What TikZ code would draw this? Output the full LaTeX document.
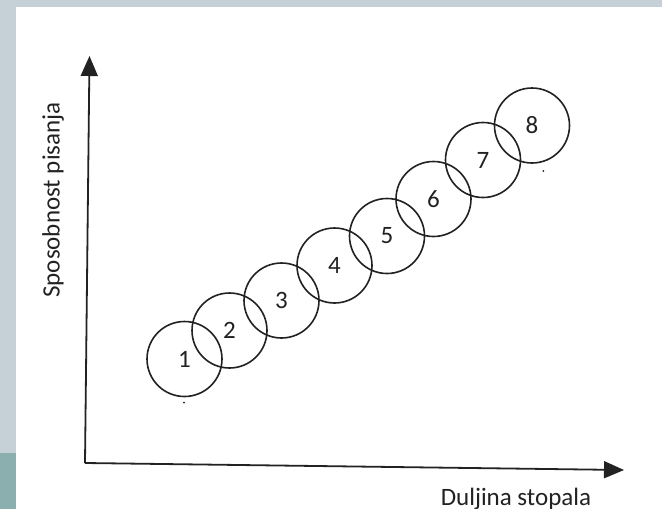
\documentclass[tikz,border=0pt]{standalone}
\usepackage{fontspec}
\setmainfont{Carlito}
\usetikzlibrary{arrows.meta}
\definecolor{slidegrey}{RGB}{197,208,215}
\definecolor{slideteal}{RGB}{139,175,175}
\definecolor{ink}{RGB}{34,34,34}

\begin{document}
\begin{tikzpicture}[x=1pt,y=1pt,yscale=-1,xscale=1,
  ball/.style={circle,draw=ink,line width=1.6pt,minimum size=75pt,inner sep=0pt,text=ink,font=\fontsize{25}{30}\selectfont},
  axis/.style={draw=ink,line width=1.8pt,-{Triangle[length=20pt,width=17pt]}},
  lbl/.style={text=ink,inner sep=0pt,font=\fontsize{25}{30}\selectfont}]
\useasboundingbox (0,0) rectangle (662,509);

%Slide background
\fill[slidegrey] (0,0) rectangle (662,509);
\fill[slideteal] (0,453) rectangle (16,509);
\fill[white] (16,7) rectangle (662,509);

%Axes
\coordinate (o) at (85,463);
\coordinate (ytip) at (89.5,56);
\coordinate (xtip) at (624,470);
\draw[axis] (o) -- (ytip);
\draw[axis] (o) -- (xtip);

%Circles
\foreach \n/\x/\y in {1/184.5/359,2/229.5/330.5,3/281.5/300.5,4/334.5/265.5,5/387/236,6/433.5/199,7/483/160,8/532/125.5}
  \node[ball] (c\n) at (\x,\y) {\n};

%Specks
\fill[ink] (184,402.7) circle (1pt);
\fill[ink] (543.3,171) circle (1pt);

% Text Node
\node[lbl,anchor=base] (xlabel) at (516,505) {Duljina stopala};
% Text Node
\node[lbl,anchor=base,rotate=90] (ylabel) at (59.5,200) {Sposobnost pisanja};

\end{tikzpicture}
\end{document}
